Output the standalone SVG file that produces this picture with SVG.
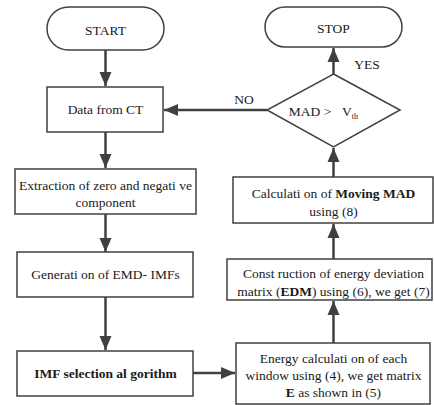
<svg xmlns="http://www.w3.org/2000/svg" width="434" height="405" viewBox="0 0 434 405">
<style>
.box{fill:#fff;stroke:#404040;stroke-width:1.5}
text{font-family:'Liberation Serif','Times New Roman','DejaVu Serif',serif;font-size:13.5px;fill:#1a1a1a;text-anchor:middle}
.b{font-weight:bold}
.c{stroke:#404040;stroke-width:2.5;fill:none}
</style>
<defs>
<marker id="ah" markerUnits="userSpaceOnUse" markerWidth="16" markerHeight="16" viewBox="0 0 16 16" refX="14" refY="8" orient="auto">
<path d="M0,2 L14,8 L0,14 Z" fill="#404040"/>
</marker>
</defs>
<rect width="434" height="405" fill="#fff"/>
<g id="connectors">
<line class="c" x1="105.5" y1="50" x2="105.5" y2="86" marker-end="url(#ah)"/>
<line class="c" x1="105.5" y1="132" x2="105.5" y2="168" marker-end="url(#ah)"/>
<line class="c" x1="105.5" y1="214" x2="105.5" y2="252" marker-end="url(#ah)"/>
<line class="c" x1="105.5" y1="297" x2="105.5" y2="350" marker-end="url(#ah)"/>
<line class="c" x1="193" y1="373" x2="235" y2="373" marker-end="url(#ah)"/>
<line class="c" x1="333.5" y1="343" x2="333.5" y2="301" marker-end="url(#ah)"/>
<line class="c" x1="333.5" y1="259" x2="333.5" y2="224" marker-end="url(#ah)"/>
<line class="c" x1="333.5" y1="177" x2="333.5" y2="148" marker-end="url(#ah)"/>
<line class="c" x1="333.5" y1="74" x2="333.5" y2="48" marker-end="url(#ah)"/>
<line class="c" x1="267" y1="110" x2="164" y2="110" marker-end="url(#ah)"/>
<text x="244" y="104">NO</text>
<text x="367" y="69">YES</text>
</g>
<g id="start">
<rect class="box" x="47" y="7" width="117" height="43" rx="21.5"/>
<text x="105.5" y="35">START</text>
</g>
<g id="data">
<rect class="box" x="47" y="87" width="116" height="45"/>
<text x="105.5" y="114">Data from CT</text>
</g>
<g id="extraction">
<rect class="box" x="15" y="169" width="181" height="45"/>
<text x="105.5" y="190">Extraction of zero and negati ve</text>
<text x="105.5" y="207">component</text>
</g>
<g id="generation">
<rect class="box" x="17" y="252" width="176" height="45"/>
<text x="105.5" y="279">Generati on of EMD- IMFs</text>
</g>
<g id="imf">
<rect class="box" x="17" y="351" width="176" height="45"/>
<text class="b" x="105.5" y="378">IMF selection al gorithm</text>
</g>
<g id="energy">
<rect class="box" x="236" y="343" width="194" height="61"/>
<text x="333.5" y="363">Energy calculati on of each</text>
<text x="333.5" y="380">window using (4), we get matrix</text>
<text x="333.5" y="397"><tspan class="b">E</tspan> as shown in (5)</text>
</g>
<g id="construction">
<rect class="box" x="227" y="259" width="205" height="41"/>
<text x="333.5" y="278">Const ruction of energy deviation</text>
<text x="333.5" y="296">matrix (<tspan class="b">EDM</tspan>) using (6), we get (7)</text>
</g>
<g id="movingmad">
<rect class="box" x="233" y="177" width="200" height="46"/>
<text x="333.5" y="198">Calculati on of <tspan class="b">Moving MAD</tspan></text>
<text x="333.5" y="216">using (8)</text>
</g>
<g id="decision">
<polygon class="box" points="333.5,74 400,110 333.5,147 267,110"/>
<text x="310" y="116">MAD &gt;</text>
<text x="350" y="116">V<tspan font-size="8" dy="3">th</tspan></text>
</g>
<g id="stop">
<rect class="box" x="265" y="7" width="137" height="40" rx="20"/>
<text x="333.5" y="33">STOP</text>
</g>
</svg>
